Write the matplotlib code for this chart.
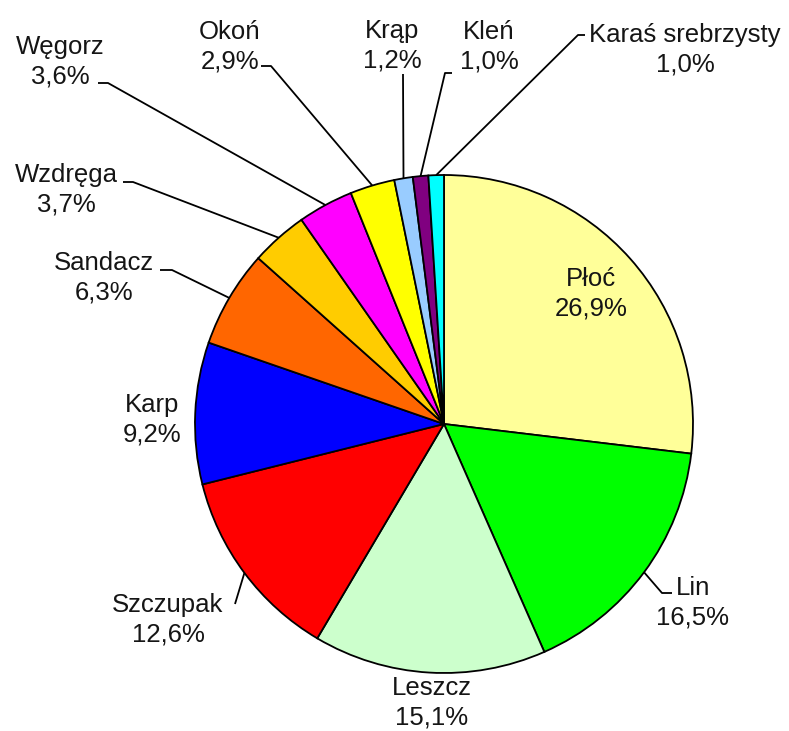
import matplotlib
matplotlib.use("Agg")
import matplotlib.pyplot as plt
import numpy as np

# data
species = ["Płoć", "Lin", "Leszcz", "Szczupak", "Karp", "Sandacz", "Wzdręga",
           "Węgorz", "Okoń", "Krąp", "Kleń", "Karaś srebrzysty"]
shares = [26.9, 16.5, 15.1, 12.6, 9.2, 6.3, 3.7, 3.6, 2.9, 1.2, 1.0, 1.0]
colors = ["#FFFF99", "#00FF00", "#CCFFCC", "#FF0000", "#0000FF", "#FF6600",
          "#FFCC00", "#FF00FF", "#FFFF00", "#99CCFF", "#800080", "#00FFFF"]

# label layout (figure pixel coords, y down): text centre, leader bend points
label_pos = {
    "Płoć": ((591, 294), []),
    "Lin": ((693, 603), [(662, 593), (672, 593)]),
    "Leszcz": ((432, 703), None),
    "Szczupak": ((168, 620), [(235, 604)]),
    "Karp": ((152, 420), None),
    "Sandacz": ((104, 278), [(172, 270), (160, 270)]),
    "Wzdręga": ((66, 190), [(133, 182), (123, 182)]),
    "Węgorz": ((60, 62), [(108, 83), (98, 83)]),
    "Okoń": ((230, 47), [(271, 66), (261, 66)]),
    "Krąp": ((392, 46), [(403, 74)]),
    "Kleń": ((489, 47), [(445, 73), (452, 73)]),
    "Karaś srebrzysty": ((685, 50), [(578, 35), (585, 35)]),
}

plt.rcParams['font.family'] = ['Liberation Sans', 'DejaVu Sans']

W, H = 789, 731
fig = plt.figure(figsize=(W / 100, H / 100), dpi=100)
ax = fig.add_axes([0, 0, 1, 1])

cx, cy, r = 444, 424, 249
# y axis is inverted, so counterclock in data = clockwise on screen
wedges, _ = ax.pie(shares, colors=colors, startangle=-90, counterclock=True,
                   center=(cx, cy), radius=r, frame=True,
                   wedgeprops=dict(edgecolor='black', linewidth=1.3))
ax.set_xlim(0, W)
ax.set_ylim(H, 0)
ax.axis('off')

for w, name, val in zip(wedges, species, shares):
    (tx, ty), pts = label_pos[name]
    txt = name + "\n" + f"{val:.1f}".replace('.', ',') + "%"
    ax.text(tx, ty, txt, ha='center', va='center', fontsize=18.5,
            color='#151515', linespacing=1.3)
    if pts:
        mid = np.deg2rad((w.theta1 + w.theta2) / 2)
        ex, ey = cx + r * np.cos(mid), cy + r * np.sin(mid)
        xs = [ex] + [p[0] for p in pts]
        ys = [ey] + [p[1] for p in pts]
        ax.plot(xs, ys, color='black', linewidth=1.3, solid_capstyle='butt')

fig.savefig("out.png", dpi=100)
